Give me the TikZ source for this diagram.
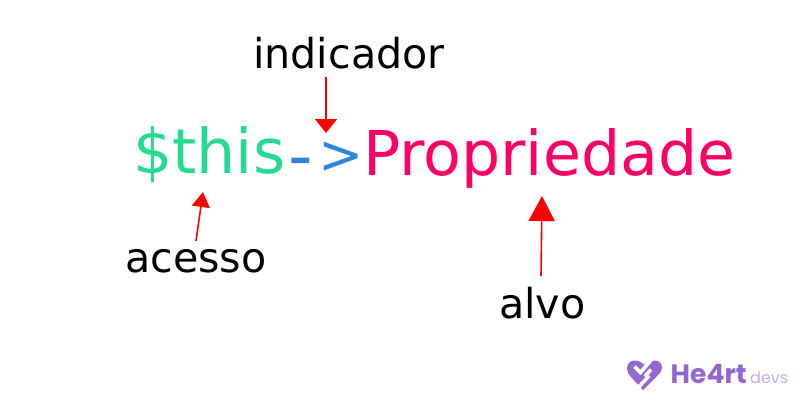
\documentclass[tikz,border=0pt]{standalone}
\usepackage{fontspec}
\setmainfont{DejaVu Sans}
\newfontfamily\logofont{Poppins}
\usetikzlibrary{arrows.meta}
\definecolor{cgreen}{HTML}{24DB91}
\definecolor{cblue}{HTML}{2B86DC}
\definecolor{cpink}{HTML}{FF0066}
\definecolor{clogo}{HTML}{9366D2}
\definecolor{clogob}{HTML}{C5A9E4}
\tikzset{
  lbl/.style={inner sep=0pt,anchor=base west,text=black,font=\fontsize{41.2}{41.2}\selectfont},
  code/.style={inner sep=0pt,anchor=base west,font=\fontsize{61.8}{61.8}\selectfont},
  redarrow/.style={draw=red,line width=1.6pt},
  tipA/.style={-{Triangle[length=14pt,width=22pt,fill=red]}},
  tipB/.style={-{Triangle[length=25pt,width=26pt,fill=red]}},
  tipC/.style={-{Triangle[length=15pt,width=18pt,fill=red]}},
  logocut/.style={draw=white,line width=3.6pt},
}
\begin{document}
\begin{tikzpicture}[x=1pt,y=-1pt]
\useasboundingbox (0,0) rectangle (800,400);
\node[code,text=cgreen] (this) at (133,173) {\$this};
\node[code,text=cblue,font=\fontsize{68}{68}\selectfont] (dash) at (288,179) {-};
\node[code,text=cblue,font=\fontsize{54}{54}\selectfont] (gt) at (318,173) {>};
\node[code,text=cpink] (prop) at (363,175) {Propriedade};
\node[lbl] (ind) at (253,68) {indicador};
\node[lbl] (ace) at (125,272) {acesso};
\node[lbl] (alv) at (499,318) {alvo};
\coordinate (a1s) at (326,77);
\coordinate (a1e) at (326,133);
\coordinate (a2s) at (196,241);
\coordinate (a2e) at (203,192);
\coordinate (a3s) at (541,276);
\coordinate (a3e) at (542,196);
\draw[redarrow,tipA] (a1s) -- (a1e);
\draw[redarrow,tipC] (a2s) -- (a2e);
\draw[redarrow,tipB] (a3s) -- (a3e);
% logo
\fill[clogo] (644,365) .. controls (640,359) and (627,358) .. (627,369) .. controls (627,372) and (629,375) .. (631,377) -- (643,390) -- (657,376) .. controls (660,373) and (662,371) .. (662,368) .. controls (662,358) and (649,359) .. (644,365) -- cycle;
\draw[logocut] (634.5,366.5) -- (640.5,372.5) -- (652,359);
\draw[logocut] (651,369.5) -- (646,375) -- (648,377) -- (635,391);
\node[inner sep=0pt,anchor=base west,text=clogo,font=\logofont\bfseries\fontsize{26.6}{26.6}\selectfont] (he) at (670.5,383.5) {He4rt};
\node[inner sep=0pt,anchor=base west,text=clogob,font=\logofont\fontsize{16}{16}\selectfont] (dv) at (750,383.5) {devs};
\end{tikzpicture}
\end{document}
